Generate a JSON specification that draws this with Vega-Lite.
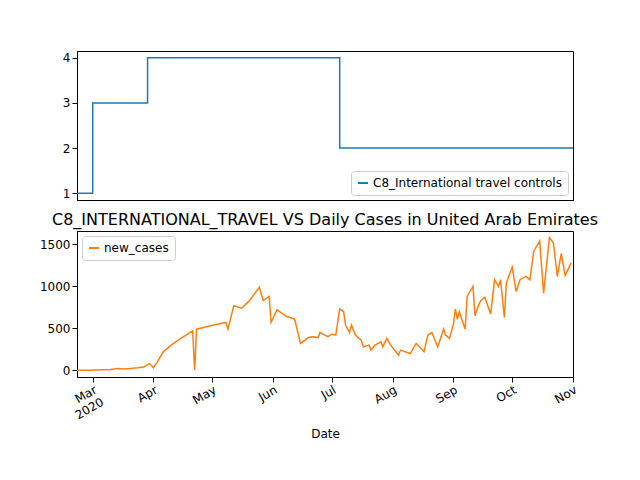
{
"$schema":"https://vega.github.io/schema/vega-lite/v6.json",
"config":{"font":"DejaVu Sans","view":{"stroke":"black","strokeWidth":1},"axis":{"grid":false,"labelFontSize":12,"titleFontSize":12,"titleFontWeight":"normal","domainColor":"black","tickColor":"black","labelColor":"black"},"legend":{"labelFontSize":12,"labelLimit":400,"symbolType":"stroke","symbolStrokeWidth":2,"fillColor":"white","strokeColor":"#cccccc","padding":6,"cornerRadius":3}},
"datasets":{
"c8":[{"date":"2020-02-22","value":1,"series":"C8_International travel controls"},{"date":"2020-03-01","value":3,"series":"C8_International travel controls"},{"date":"2020-03-29","value":4,"series":"C8_International travel controls"},{"date":"2020-07-05","value":2,"series":"C8_International travel controls"},{"date":"2020-11-01","value":2,"series":"C8_International travel controls"}],
"cases":[
{"date":"2020-02-22","v":0},{"date":"2020-02-29","v":0},{"date":"2020-03-05","v":5},{"date":"2020-03-10","v":10},{"date":"2020-03-14","v":20},{"date":"2020-03-17","v":15},{"date":"2020-03-20","v":20},{"date":"2020-03-24","v":30},{"date":"2020-03-27","v":40},{"date":"2020-03-30","v":80},{"date":"2020-04-01","v":30},{"date":"2020-04-03","v":100},{"date":"2020-04-06","v":220},{"date":"2020-04-10","v":300},{"date":"2020-04-15","v":380},{"date":"2020-04-21","v":470},{"date":"2020-04-22","v":0},{"date":"2020-04-23","v":490},{"date":"2020-04-30","v":530},{"date":"2020-05-08","v":570},{"date":"2020-05-09","v":490},{"date":"2020-05-12","v":770},{"date":"2020-05-16","v":740},{"date":"2020-05-20","v":830},{"date":"2020-05-25","v":990},{"date":"2020-05-27","v":830},{"date":"2020-05-30","v":880},{"date":"2020-05-31","v":570},{"date":"2020-06-03","v":720},{"date":"2020-06-08","v":640},{"date":"2020-06-12","v":610},{"date":"2020-06-15","v":320},{"date":"2020-06-19","v":390},{"date":"2020-06-21","v":400},{"date":"2020-06-24","v":390},{"date":"2020-06-25","v":450},{"date":"2020-06-29","v":400},{"date":"2020-07-01","v":430},{"date":"2020-07-03","v":420},{"date":"2020-07-05","v":730},{"date":"2020-07-07","v":700},{"date":"2020-07-08","v":540},{"date":"2020-07-10","v":450},{"date":"2020-07-11","v":540},{"date":"2020-07-13","v":420},{"date":"2020-07-16","v":360},{"date":"2020-07-17","v":280},{"date":"2020-07-20","v":300},{"date":"2020-07-21","v":240},{"date":"2020-07-23","v":300},{"date":"2020-07-26","v":340},{"date":"2020-07-27","v":280},{"date":"2020-07-29","v":380},{"date":"2020-07-31","v":300},{"date":"2020-08-04","v":180},{"date":"2020-08-05","v":240},{"date":"2020-08-10","v":200},{"date":"2020-08-13","v":320},{"date":"2020-08-17","v":220},{"date":"2020-08-19","v":420},{"date":"2020-08-21","v":450},{"date":"2020-08-24","v":280},{"date":"2020-08-27","v":490},{"date":"2020-08-28","v":420},{"date":"2020-08-30","v":380},{"date":"2020-09-01","v":550},{"date":"2020-09-02","v":730},{"date":"2020-09-03","v":610},{"date":"2020-09-04","v":700},{"date":"2020-09-07","v":490},{"date":"2020-09-08","v":880},{"date":"2020-09-11","v":1000},{"date":"2020-09-12","v":650},{"date":"2020-09-14","v":790},{"date":"2020-09-15","v":830},{"date":"2020-09-17","v":870},{"date":"2020-09-20","v":670},{"date":"2020-09-22","v":1080},{"date":"2020-09-24","v":1000},{"date":"2020-09-25","v":1080},{"date":"2020-09-27","v":630},{"date":"2020-09-28","v":1040},{"date":"2020-10-01","v":1230},{"date":"2020-10-03","v":940},{"date":"2020-10-05","v":1080},{"date":"2020-10-08","v":1120},{"date":"2020-10-10","v":1080},{"date":"2020-10-12","v":1420},{"date":"2020-10-15","v":1540},{"date":"2020-10-17","v":920},{"date":"2020-10-20","v":1580},{"date":"2020-10-22","v":1520},{"date":"2020-10-24","v":1120},{"date":"2020-10-26","v":1390},{"date":"2020-10-28","v":1130},{"date":"2020-10-31","v":1280}]},
"spacing":10,
"padding":{"left":38,"top":50,"right":10,"bottom":10},
"vconcat":[
{"width":496,"height":149,
"data":{"name":"c8"},
"mark":{"type":"line","interpolate":"step-after","strokeWidth":1.5},
"encoding":{
"x":{"field":"date","type":"temporal","scale":{"domain":["2020-02-22","2020-11-01"]},"axis":{"labels":false,"ticks":false,"title":null}},
"y":{"field":"value","type":"quantitative","scale":{"domain":[0.85,4.15],"nice":false,"zero":false},"axis":{"values":[1,2,3,4],"title":null}},
"color":{"field":"series","type":"nominal","scale":{"range":["#1f77b4"]},"legend":{"title":null,"orient":"bottom-right","offset":5}}}},
{"width":496,"height":146,
"title":{"text":"C8_INTERNATIONAL_TRAVEL VS Daily Cases in United Arab Emirates","fontSize":16,"fontWeight":"normal","offset":3},
"data":{"name":"cases"},
"transform":[{"calculate":"'new_cases'","as":"series"}],
"mark":{"type":"line","strokeWidth":1.5},
"encoding":{
"x":{"field":"date","type":"temporal","scale":{"domain":["2020-02-22","2020-11-01"]},"axis":{"title":"Date","tickCount":{"interval":"month","step":1},"labelAngle":-30,"labelAlign":"right","labelExpr":"month(datum.value)==2 ? ['Mar','2020'] : timeFormat(datum.value,'%b')","titlePadding":8}},
"y":{"field":"v","type":"quantitative","scale":{"domain":[-80,1660],"nice":false},"axis":{"values":[0,500,1000,1500],"format":"d","title":null}},
"color":{"field":"series","type":"nominal","scale":{"range":["#ff7f0e"]},"legend":{"title":null,"orient":"top-left","offset":5}}}}
],
"resolve":{"scale":{"color":"independent"}}
}
